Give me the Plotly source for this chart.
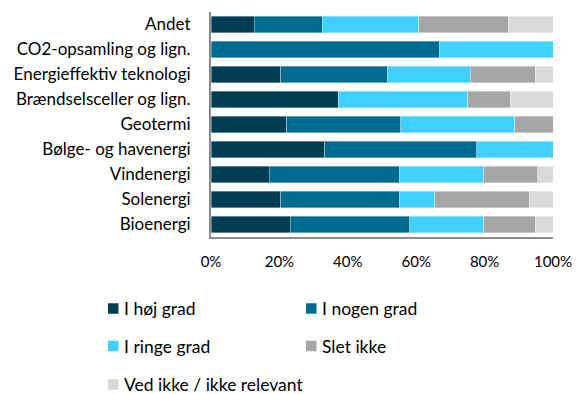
import plotly.graph_objects as go

# Technology areas, listed top to bottom
categories = [
    "Andet",
    "CO2-opsamling og lign.",
    "Energieffektiv teknologi",
    "Brændselsceller og lign.",
    "Geotermi",
    "Bølge- og havenergi",
    "Vindenergi",
    "Solenergi",
    "Bioenergi",
]

# Share of answers per category (percent)
hoej_grad = [12.7, 0.0, 20.4, 37.2, 22.2, 33.3, 17.1, 20.4, 23.2]
nogen_grad = [19.8, 66.7, 31.2, 0.0, 33.3, 44.4, 38.0, 34.7, 34.9]
ringe_grad = [28.3, 33.3, 24.2, 37.8, 33.3, 22.3, 24.6, 10.3, 21.7]
slet_ikke = [26.1, 0.0, 19.0, 12.5, 11.2, 0.0, 15.9, 27.7, 15.0]
ved_ikke = [13.1, 0.0, 5.2, 12.5, 0.0, 0.0, 4.4, 6.9, 5.2]

series_names = ["I høj grad", "I nogen grad", "I ringe grad", "Slet ikke",
                "Ved ikke / ikke relevant"]
series_values = [hoej_grad, nogen_grad, ringe_grad, slet_ikke, ved_ikke]
colors = ["#003D52", "#006B91", "#40CFFF", "#A6A6A6", "#D9D9D9"]

tick_vals = [0, 20, 40, 60, 80, 100]
tick_text = ["0%", "20%", "40%", "60%", "80%", "100%"]

FONT = "Lato, 'Open Sans', sans-serif"

W, H = 577, 394
M_L, M_R, M_T, M_B = 211, 24, 12, 157
PLOT_W = W - M_L - M_R
PLOT_H = H - M_T - M_B


def px_x(px):
    """Horizontal pixel position -> paper coordinate."""
    return (px - M_L) / PLOT_W


def px_y(py):
    """Vertical pixel position (from top) -> paper coordinate."""
    return (H - M_B - py) / PLOT_H


fig = go.Figure()
for name, vals, col in zip(series_names, series_values, colors):
    fig.add_trace(go.Bar(
        y=categories, x=vals, name=name, orientation="h",
        marker=dict(color=col, line=dict(color="rgba(255,255,255,0.6)", width=0.6)),
    ))

# Legend laid out as a two-column grid below the chart
legend_cols = [108, 306]
legend_rows = [308.5, 346, 384.5]
box = 10.5
shapes, annotations = [], []
for i, (name, col) in enumerate(zip(series_names, colors)):
    cx = legend_cols[i % 2]
    cy = legend_rows[i // 2]
    shapes.append(dict(
        type="rect", xref="paper", yref="paper",
        x0=px_x(cx), x1=px_x(cx + box),
        y0=px_y(cy + box / 2), y1=px_y(cy - box / 2),
        fillcolor=col, line=dict(width=0),
    ))
    annotations.append(dict(
        text=name, xref="paper", yref="paper",
        x=px_x(cx + box + 3), y=px_y(cy),
        xanchor="left", yanchor="middle", showarrow=False,
        font=dict(family=FONT, size=17.5, color="#000000"),
    ))

fig.update_layout(
    width=W, height=H,
    margin=dict(l=M_L, r=M_R, t=M_T, b=M_B, autoexpand=False),
    plot_bgcolor="white", paper_bgcolor="white",
    barmode="stack", bargap=0.34,
    showlegend=False,
    font=dict(family=FONT, size=15, color="#000000"),
    xaxis=dict(
        range=[0, 100], tickvals=tick_vals, ticktext=tick_text,
        showgrid=False, zeroline=False,
        showline=True, linecolor="#8C8C8C", linewidth=2,
        ticks="", ticklabelstandoff=10,
        tickfont=dict(family=FONT, size=15),
    ),
    yaxis=dict(
        autorange="reversed", showgrid=False, zeroline=False,
        showline=True, linecolor="#8C8C8C", linewidth=2,
        ticks="", ticklabelstandoff=15,
        tickfont=dict(family=FONT, size=17),
    ),
    shapes=shapes,
    annotations=annotations,
)

fig.write_html("out.html")
